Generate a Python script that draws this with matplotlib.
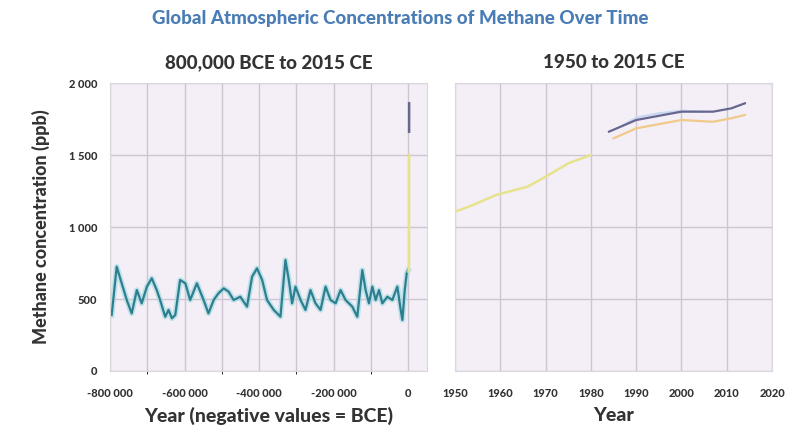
import numpy as np
import matplotlib
matplotlib.use("Agg")
import matplotlib.pyplot as plt
from matplotlib.ticker import FuncFormatter, MultipleLocator

plt.rcParams['font.family'] = ['Lato', 'DejaVu Sans']

# ice core record (years, negative = BCE), ppb
ice_years = [-795500, -782000, -768600, -755000, -741800, -728000, -715000, -701000,
             -688000, -674600, -665600, -652000, -643000, -634000, -625000, -612000,
             -598000, -585000, -567000, -549000, -536000, -522000, -509000, -495000,
             -482000, -468500, -450600, -432600, -419000, -405800, -392000, -379000,
             -361000, -343000, -329600, -320600, -311700, -302700, -289000, -275800,
             -262400, -249000, -235500, -222000, -208600, -195000, -181800, -168400,
             -150400, -137000, -123500, -114600, -105600, -96600, -87700, -78700,
             -69800, -56300, -43000, -29500, -20500, -16000, -9700, -4400, -700]
ice_ppb = [389, 724, 609, 493, 400, 562, 470, 586,
           644, 562, 493, 377, 424, 366, 389, 632,
           609, 493, 609, 493, 400, 493, 540, 574,
           551, 493, 516, 447, 655, 713, 632, 493,
           424, 377, 771, 632, 470, 586, 493, 424,
           562, 470, 424, 586, 493, 470, 562, 493,
           447, 377, 701, 562, 470, 586, 493, 562,
           470, 516, 493, 586, 424, 354, 562, 678, 700]

# Law Dome style recent record
law_years = [0, 1000, 1750, 1850, 1900, 1950, 1954, 1959, 1966, 1970, 1975, 1980]
law_ppb = [690, 700, 720, 800, 900, 1106, 1153, 1222, 1280, 1349, 1442, 1500]

# direct measurements
orange_years = [1985, 1990, 1996, 2000, 2007, 2011, 2014]
orange_ppb = [1616, 1685, 1720, 1743, 1731, 1755, 1778]

purple_years = [1984, 1990, 1996, 2000, 2007, 2011, 2014]
purple_ppb = [1662, 1743, 1778, 1801, 1801, 1824, 1859]

blue_years = [1987, 1990, 1995, 2000, 2005]
blue_ppb = [1705, 1760, 1790, 1808, 1800]

TEAL = '#2d7f8f'
HALO = '#a8dbe2'
YELLOW = '#e6e38c'
ORANGE = '#f1c98a'
PURPLE = '#66668f'
LBLUE = '#c7d8f0'
BG = '#f4eff7'
GRID = '#cdc6d2'
TXT = '#333333'
W = 'black'


def space_fmt(v, pos):
    s = f"{abs(int(round(v))):,}".replace(",", " ")
    return ("-" if v < 0 else "") + s


fig = plt.figure(figsize=(7.89, 4.29), dpi=100)
ax1 = fig.add_axes([0.1394, 0.1352, 0.4018, 0.6713])
ax2 = fig.add_axes([0.5767, 0.1352, 0.4018, 0.6713])

for ax in (ax1, ax2):
    ax.set_facecolor(BG)
    ax.set_ylim(0, 2000)
    ax.yaxis.set_major_locator(MultipleLocator(500))
    ax.grid(True, which='both', color=GRID, linewidth=1)
    ax.set_axisbelow(True)
    ax.tick_params(length=0, labelsize=8, colors=TXT, pad=9)
    ax.tick_params(axis='x', pad=12)
    for s in ax.spines.values():
        s.set_color('#dcd6df')
        s.set_linewidth(0.8)

# left panel
ax1.plot(ice_years, ice_ppb, color=HALO, linewidth=4, alpha=0.7)
ax1.plot(ice_years, ice_ppb, color=TEAL, linewidth=1.6)
ax1.plot(law_years, law_ppb, color=YELLOW, linewidth=1.8)
ax1.plot(purple_years, purple_ppb, color=PURPLE, linewidth=1.8)
ax1.set_xlim(-800000, 50000)
ax1.xaxis.set_major_locator(MultipleLocator(200000))
ax1.xaxis.set_minor_locator(MultipleLocator(100000))
ax1.xaxis.set_major_formatter(FuncFormatter(space_fmt))
ax1.yaxis.set_major_formatter(FuncFormatter(space_fmt))
ax1.set_ylabel('Methane concentration (ppb)', fontsize=13, fontweight=W,
               color=TXT, labelpad=14)
ax1.set_xlabel('Year (negative values = BCE)', fontsize=14, fontweight=W,
               color=TXT, labelpad=6)
ax1.set_title('800,000 BCE to 2015 CE', fontsize=13.5, fontweight=W,
              color=TXT, pad=11)

# right panel
ax2.plot(law_years[5:], law_ppb[5:], color=YELLOW, linewidth=1.8)
ax2.plot(blue_years, blue_ppb, color=LBLUE, linewidth=1.5)
ax2.plot(orange_years, orange_ppb, color=ORANGE, linewidth=1.6)
ax2.plot(purple_years, purple_ppb, color=PURPLE, linewidth=1.6)
ax2.set_xlim(1950, 2020)
ax2.xaxis.set_major_locator(MultipleLocator(10))
ax2.yaxis.set_major_formatter(FuncFormatter(lambda v, p: ''))
ax2.set_xlabel('Year', fontsize=14, fontweight=W, color=TXT, labelpad=6)
ax2.set_title('1950 to 2015 CE', fontsize=13.5, fontweight=W, color=TXT, pad=11)

for ax in (ax1, ax2):
    for lab in ax.get_xticklabels() + ax.get_yticklabels():
        lab.set_fontweight(W)

fig.text(0.507, 0.958, 'Global Atmospheric Concentrations of Methane Over Time',
         ha='center', va='center', fontsize=13.5, fontweight=W, color='#4a7db5')

fig.savefig('out.png', dpi=100, facecolor='white')
